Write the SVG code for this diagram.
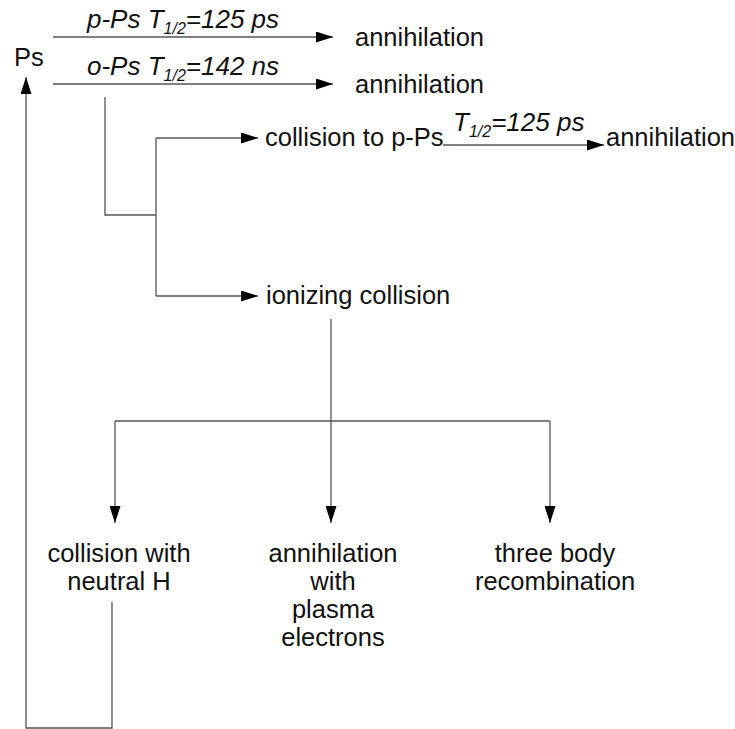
<svg xmlns="http://www.w3.org/2000/svg" width="735" height="729" viewBox="0 0 735 729">
  <style>
    .t { font-family: "Liberation Sans", Arial, sans-serif; font-size: 25.5px; fill: #111; }
    .lab { font-family: "Liberation Sans", Arial, sans-serif; font-size: 26px; font-style: italic; fill: #111; }
    .sub { font-size: 16px; }
    .c { text-anchor: middle; }
    .ln { stroke: #555; stroke-width: 1.3; fill: none; }
  </style>
  <defs>
    <marker id="ah" markerUnits="userSpaceOnUse" markerWidth="17" markerHeight="11" refX="17" refY="5.5" orient="auto">
      <path d="M0,0 L17,5.5 L0,11 Z" fill="#000"/>
    </marker>
  </defs>
  <rect width="735" height="729" fill="#fff"/>

  <g id="connectors">
    <path class="ln" d="M53,37 H333" marker-end="url(#ah)"/>
    <path class="ln" d="M53,84 H333" marker-end="url(#ah)"/>
    <path class="ln" d="M105,97 V215 H156"/>
    <path class="ln" d="M156,138 V296"/>
    <path class="ln" d="M156,138 H258" marker-end="url(#ah)"/>
    <path class="ln" d="M156,296 H258" marker-end="url(#ah)"/>
    <path class="ln" d="M443,145 H604" marker-end="url(#ah)"/>
    <path class="ln" d="M331,319 V421"/>
    <path class="ln" d="M115,421 H550"/>
    <path class="ln" d="M115,421 V523" marker-end="url(#ah)"/>
    <path class="ln" d="M331,421 V523" marker-end="url(#ah)"/>
    <path class="ln" d="M550,421 V523" marker-end="url(#ah)"/>
    <path class="ln" d="M112,602 V728 H26 V77" marker-end="url(#ah)"/>
  </g>

  <g id="labels">
    <text class="lab" x="87" y="28">p-Ps T<tspan class="sub" dy="6">1/2</tspan><tspan dy="-6">=125 ps</tspan></text>
    <text class="lab" x="87" y="75">o-Ps T<tspan class="sub" dy="6">1/2</tspan><tspan dy="-6">=142 ns</tspan></text>
    <text class="lab" x="453" y="131">T<tspan class="sub" dy="6">1/2</tspan><tspan dy="-6">=125 ps</tspan></text>
  </g>

  <g id="ps"><text class="t" x="14" y="66">Ps</text></g>
  <g id="ann-p"><text class="t" x="355" y="46">annihilation</text></g>
  <g id="ann-o"><text class="t" x="355" y="93">annihilation</text></g>
  <g id="coll-pps"><text class="t" x="265" y="146">collision to p-Ps</text></g>
  <g id="ann-pps"><text class="t" x="606" y="146">annihilation</text></g>
  <g id="ionizing"><text class="t" x="266" y="304">ionizing collision</text></g>
  <g id="coll-h">
    <text class="t c" x="119" y="562">collision with</text>
    <text class="t c" x="119" y="590">neutral H</text>
  </g>
  <g id="ann-e">
    <text class="t c" x="333" y="562">annihilation</text>
    <text class="t c" x="333" y="590">with</text>
    <text class="t c" x="333" y="618">plasma</text>
    <text class="t c" x="333" y="646">electrons</text>
  </g>
  <g id="three-body">
    <text class="t c" x="555" y="562">three body</text>
    <text class="t c" x="555" y="590">recombination</text>
  </g>
</svg>
